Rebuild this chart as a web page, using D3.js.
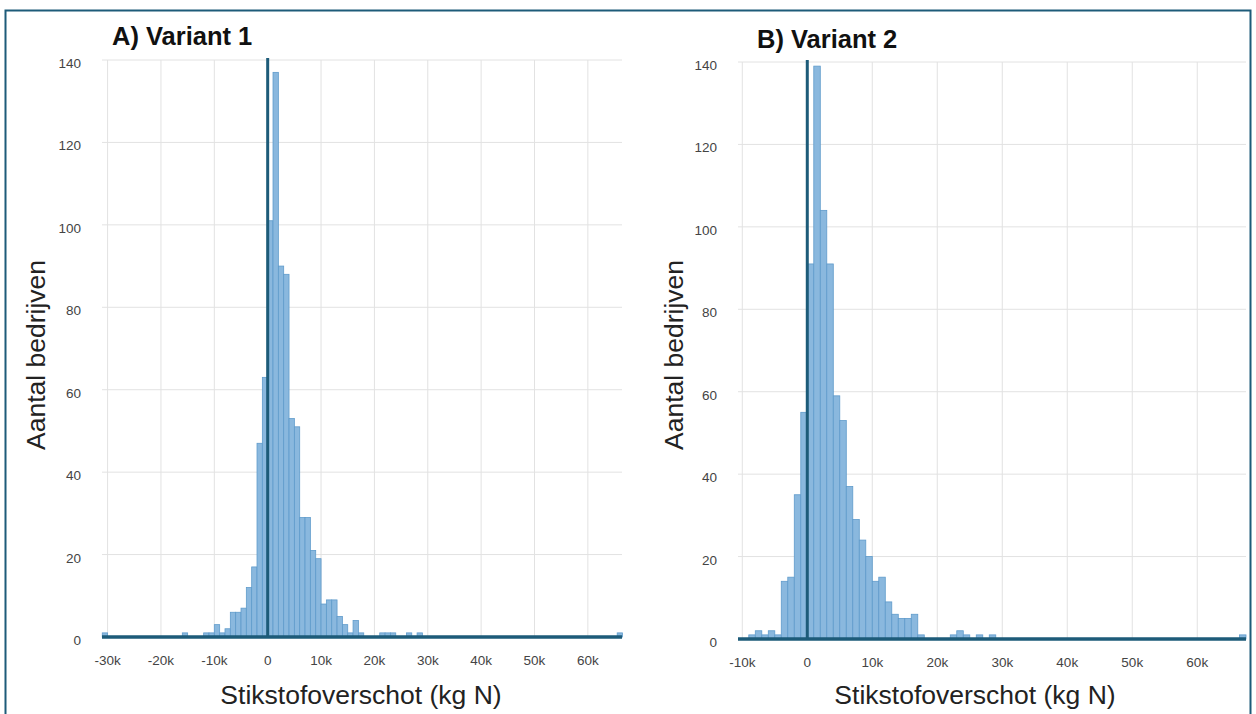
<!DOCTYPE html>
<html>
<head>
<meta charset="utf-8">
<script src="https://cdn.jsdelivr.net/npm/d3@7"></script>
<style>
  body { margin: 0; background: #fff; }
  svg { display: block; }
  text { font-family: "Liberation Sans", Arial, sans-serif; }
</style>
</head>
<body>
<svg id="chart" width="1256" height="714"></svg>
<script>
// histogram bins: start of each 1k bin (kg N) and the number of farms in it
const binStartA = [-31, -16, -12, -11, -10, -9, -8, -7, -6, -5, -4, -3, -2, -1,
    0, 1, 2, 3, 4, 5, 6, 7, 8, 9, 10, 11, 12, 13, 14, 15, 16, 17, 21, 22, 23, 26, 28, 65.5];
const countA = [1, 1, 1, 1, 3, 1, 2, 6, 6, 7, 12, 17, 47, 63,
    101, 137, 90, 88, 53, 51, 29, 29, 21, 19, 8, 9, 9, 5, 3, 1, 4, 1, 1, 1, 1, 1, 1, 1];

const binStartB = [-9, -8, -7, -6, -5, -4, -3, -2, -1,
    0, 1, 2, 3, 4, 5, 6, 7, 8, 9, 10, 11, 12, 13, 14, 15, 16, 17, 22, 23, 24, 26, 28, 66.5];
const countB = [1, 2, 1, 2, 1, 14, 15, 35, 55,
    91, 139, 104, 91, 59, 53, 37, 29, 24, 20, 14, 15, 9, 6, 5, 5, 6, 1, 1, 2, 1, 1, 1, 1];

const xTicksA = [-30, -20, -10, 0, 10, 20, 30, 40, 50, 60];
const xTicksB = [-10, 0, 10, 20, 30, 40, 50, 60];
const yTicks = [0, 20, 40, 60, 80, 100, 120, 140];

const titleA = 'A) Variant 1';
const titleB = 'B) Variant 2';
const yLabel = 'Aantal bedrijven';
const xLabel = 'Stikstofoverschot (kg N)';

const dark = '#1d5b79';
const svg = d3.select('#chart');

svg.append('rect')
    .attr('x', 5.5).attr('y', 10.5)
    .attr('width', 1245).attr('height', 740)
    .attr('fill', 'none')
    .attr('stroke', dark)
    .attr('stroke-width', 2);

function drawPanel (opt) {

    const x = d3.scaleLinear().domain(opt.xDomain).range([opt.left, opt.right]);
    const y = d3.scaleLinear().domain([0, 140]).range([opt.bottom, opt.top]);
    const g = svg.append('g');

    const bins = opt.starts.map((s, i) => ({x0: s, x1: s + 1, n: opt.counts[i]}));

    // grid
    g.selectAll('.gy').data(yTicks).join('line')
        .attr('x1', opt.left).attr('x2', opt.right)
        .attr('y1', d => y(d)).attr('y2', d => y(d))
        .attr('stroke', '#e2e2e2').attr('stroke-width', 1);

    g.selectAll('.gx').data(opt.xTicks).join('line')
        .attr('x1', d => x(d)).attr('x2', d => x(d))
        .attr('y1', y(140)).attr('y2', y(0))
        .attr('stroke', '#e2e2e2').attr('stroke-width', 1);

    // bars
    g.selectAll('.bar').data(bins).join('rect')
        .attr('x', d => x(d.x0))
        .attr('width', d => x(d.x1) - x(d.x0))
        .attr('y', d => y(d.n))
        .attr('height', d => y(0) - y(d.n))
        .attr('fill', '#8ab8de')
        .attr('stroke', '#5f9bcb')
        .attr('stroke-width', 0.8);

    // axis line + zero line
    g.append('line')
        .attr('x1', opt.left).attr('x2', opt.right)
        .attr('y1', y(0)).attr('y2', y(0))
        .attr('stroke', dark).attr('stroke-width', 3.5);

    g.append('line')
        .attr('x1', x(0)).attr('x2', x(0))
        .attr('y1', y(140) - 2).attr('y2', y(0))
        .attr('stroke', dark).attr('stroke-width', 3);

    // tick labels
    g.selectAll('.ty').data(yTicks).join('text')
        .attr('x', opt.left - 21)
        .attr('y', d => y(d) + 8)
        .attr('text-anchor', 'end')
        .attr('font-size', 13.5)
        .attr('fill', '#444')
        .text(d => d);

    g.selectAll('.tx').data(opt.xTicks).join('text')
        .attr('x', d => x(d))
        .attr('y', y(0) + 28)
        .attr('text-anchor', 'middle')
        .attr('font-size', 13.5)
        .attr('fill', '#444')
        .text(d => d == 0 ? '0' : d + 'k');

    // titles
    g.append('text')
        .attr('x', opt.titleX).attr('y', opt.titleY)
        .attr('font-size', 25.5)
        .attr('font-weight', 'bold')
        .attr('fill', '#111')
        .text(opt.title);

    g.append('text')
        .attr('transform', `translate(${opt.yLabelX}, 355) rotate(-90)`)
        .attr('text-anchor', 'middle')
        .attr('font-size', 26.5)
        .attr('fill', '#222')
        .text(yLabel);

    g.append('text')
        .attr('x', opt.xLabelX).attr('y', 704)
        .attr('text-anchor', 'middle')
        .attr('font-size', 26.5)
        .attr('fill', '#222')
        .text(xLabel);
}

drawPanel({
    starts: binStartA, counts: countA, xTicks: xTicksA,
    xDomain: [-31.05, 66.4], left: 102, right: 622, top: 60, bottom: 637,
    title: titleA, titleX: 112, titleY: 45, yLabelX: 45, xLabelX: 361
});

drawPanel({
    starts: binStartB, counts: countB, xTicks: xTicksB,
    xDomain: [-10.66, 67.5], left: 738, right: 1246, top: 62, bottom: 639,
    title: titleB, titleX: 757, titleY: 48, yLabelX: 683, xLabelX: 975
});
</script>
</body>
</html>
